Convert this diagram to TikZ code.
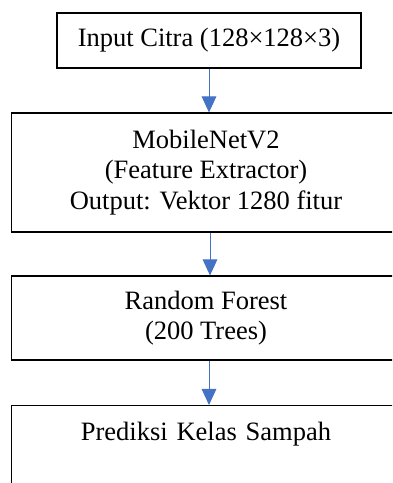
\documentclass[tikz,border=0pt]{standalone}
\usepackage{fontspec}
\setmainfont{Liberation Serif}
\usetikzlibrary{arrows.meta}
\definecolor{flowblue}{HTML}{4472C4}
\begin{document}
\begin{tikzpicture}[x=1pt,y=1pt,
  stagebox/.style={draw=black, line width=1.1pt, fill=white, inner sep=0pt,
    align=center, font=\fontsize{26.5}{30.5}\selectfont},
  flow/.style={draw=flowblue, line width=1pt,
    -{Triangle[width=14.6pt,length=16pt]}, shorten >=0pt}]
\useasboundingbox (0,0) rectangle (392,483);
\clip (0,0) rectangle (392,483);

% processing stages, top to bottom
\node[stagebox, minimum width=304pt, minimum height=55pt] (input) at (209,442.5)
  {Input Citra (128×128×3)};
\node[stagebox, minimum width=389pt, minimum height=119pt] (cnn) at (206,310.5)
  {MobileNetV2\\(Feature Extractor)\\Output: Vektor 1280 fitur};
\node[stagebox, minimum width=389pt, minimum height=84pt] (rf) at (206,165)
  {Random Forest\\(200 Trees)};
\node[stagebox, text width=389pt, text height=35pt, text depth=70pt,
  anchor=north] (pred) at (206,78)
  {Prediksi Kelas Sampah};

% connectors between stages
\draw[flow] (input.south) -- (input.south |- cnn.north);
\draw[flow] ([xshift=1pt]input.south |- cnn.south) -- ([xshift=1pt]input.south |- rf.north);
\draw[flow] (input.south |- rf.south) -- (input.south |- pred.north);
\end{tikzpicture}
\end{document}
